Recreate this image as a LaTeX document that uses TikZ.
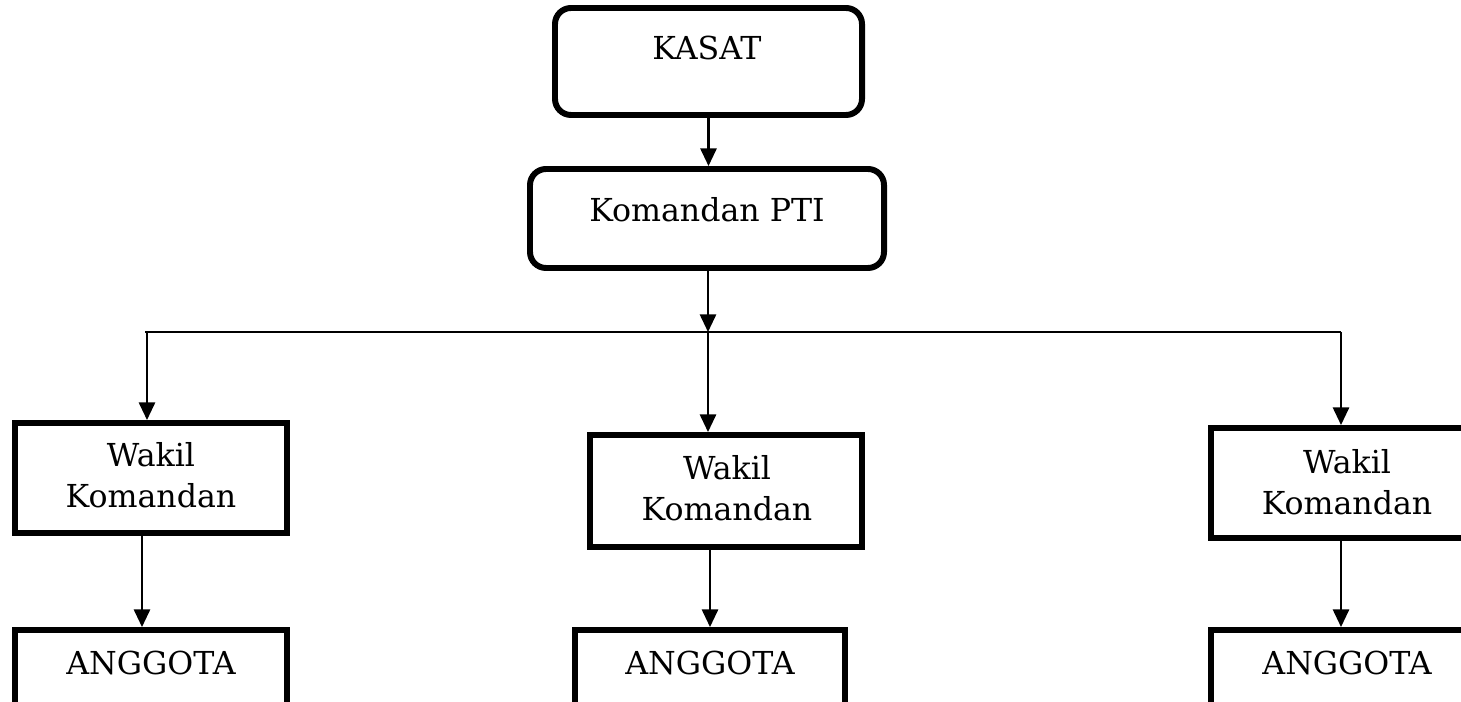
\documentclass[tikz,border=0pt]{standalone}
\usepackage{fontspec}
\setmainfont{DejaVu Serif}
\usetikzlibrary{arrows.meta}

\tikzset{
  box/.style={draw=black, line width=1.7pt, minimum width=2.72cm, minimum height=1.1cm, inner sep=0pt},
  roundbox/.style={box, rounded corners=0.16cm},
  txt/.style={font=\fontsize{9}{11.5}\selectfont, align=center, inner sep=0pt},
  arr/.style={line width=0.6pt, -{Triangle[length=5pt,width=4.6pt]}},
}

\begin{document}
\begin{tikzpicture}
  \useasboundingbox (0,0) rectangle (14.61,-7.02);
  \clip (0,0) rectangle (14.61,-7.02);

  \node[roundbox, minimum width=3.07cm, minimum height=1.07cm] (kasat) at (7.085,-0.615) {};
  \node[txt] (kasattxt) at (7.07,-0.48) {KASAT};
  \node[roundbox, minimum width=3.54cm, minimum height=0.99cm] (komandan) at (7.07,-2.185) {};
  \node[txt] (komandantxt) at (7.07,-2.10) {Komandan PTI};

  \node[box] (wakilA) at (1.51,-4.78) {};
  \node[txt] (wakilAtxt) at (1.51,-4.75) {Wakil\\Komandan};
  \node[box, minimum height=1.12cm] (wakilB) at (7.26,-4.91) {};
  \node[txt] (wakilBtxt) at (7.27,-4.88) {Wakil\\Komandan};
  \node[box] (wakilC) at (13.47,-4.83) {};
  \node[txt] (wakilCtxt) at (13.47,-4.82) {Wakil\\Komandan};

  \node[box, minimum height=1cm] (anggotaA) at (1.51,-6.80) {};
  \node[txt] (anggotaAtxt) at (1.51,-6.63) {ANGGOTA};
  \node[box, minimum width=2.70cm, minimum height=1cm] (anggotaB) at (7.10,-6.80) {};
  \node[txt] (anggotaBtxt) at (7.10,-6.63) {ANGGOTA};
  \node[box, minimum height=1cm] (anggotaC) at (13.47,-6.80) {};
  \node[txt] (anggotaCtxt) at (13.47,-6.63) {ANGGOTA};

  \coordinate (busL) at (1.45,-3.32);
  \coordinate (busM) at (7.08,-3.32);
  \coordinate (busR) at (13.41,-3.32);
  \coordinate (dropA) at (1.47,-3.32);

  \draw[arr] (kasat.south) -- (kasat.south |- komandan.north);
  \draw[arr] (komandan.south -| busM) -- (busM);
  \draw[line width=0.5pt] (busL) -- (busR);

  \draw[arr] (dropA) -- (dropA |- wakilA.north);
  \draw[arr] (busM) -- (busM |- wakilB.north);
  \draw[arr] (busR) -- (busR |- wakilC.north);

  \draw[arr] (1.42,-5.33) coordinate (fromA) -- (fromA |- anggotaA.north);
  \draw[arr] (anggotaB.north |- wakilB.south) -- (anggotaB.north);
  \draw[arr] (busR |- wakilC.south) -- (busR |- anggotaC.north);
\end{tikzpicture}
\end{document}
